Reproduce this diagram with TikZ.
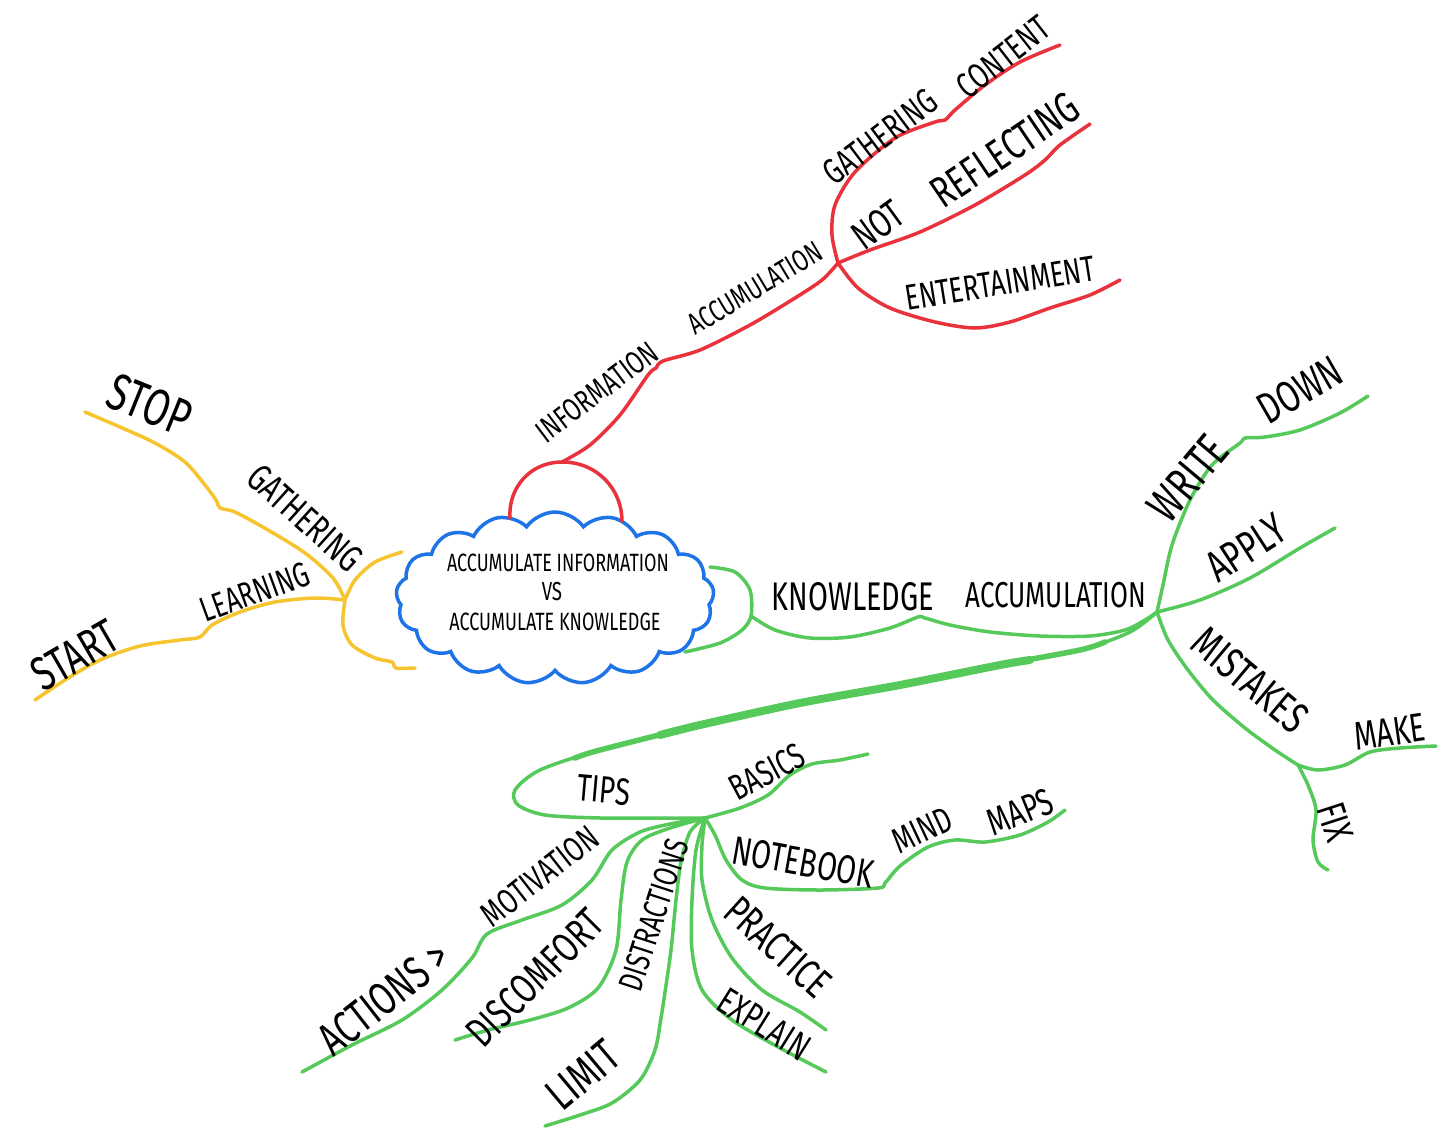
\documentclass[tikz,border=0pt]{standalone}
\usepackage{fontspec}
\newfontfamily\hand{Fira Sans}[FakeStretch=0.72]
\usetikzlibrary{shapes.symbols}
\definecolor{cred}{HTML}{E8323C}
\definecolor{cyel}{HTML}{F6C42E}
\definecolor{cblue}{HTML}{1E74E6}
\definecolor{cgreen}{HTML}{55C95A}
\tikzset{
  br/.style={line width=3.5pt, line cap=round, line join=round},
  lbl/.style={inner sep=0pt, anchor=center, text=black},
}
\newcommand{\fs}[1]{\hand\fontsize{#1}{#1}\selectfont}
\begin{document}
\begin{tikzpicture}[x=1pt,y=-1pt]
\useasboundingbox[fill=white] (0,0) rectangle (1456,1146);

% cloud
\node[cloud, draw=cblue, line width=3.5pt, cloud puffs=17, cloud puff arc=110, aspect=1.85,
      minimum width=318pt, minimum height=172pt, inner sep=0pt] (cloud) at (555,598) {};
\node[lbl, font=\fs{25}] (t1) at (558,563) {ACCUMULATE INFORMATION};
\node[lbl, font=\fs{26}] (t2) at (552,592) {VS};
\node[lbl, font=\fs{25}] (t3) at (555,622) {ACCUMULATE KNOWLEDGE};

% coordinates
\coordinate (ra) at (510,518);
\coordinate (rb) at (622,521);
\coordinate (hr) at (562,462);
\coordinate (jr) at (838,263);
\coordinate (cy1) at (402,552);
\coordinate (cy2) at (415,668);
\coordinate (jy) at (345,600);
\coordinate (cg1) at (710,567);
\coordinate (cg2) at (685,652);
\coordinate (jg0) at (751,616);
\coordinate (jg) at (1157,612);
\coordinate (jm) at (1298,765);
\coordinate (jt) at (705,818);

% red
\draw[br, cred] (ra) .. controls (508,488) and (530,462) .. (hr) .. controls (598,462) and (622,490) .. (rb);
\draw[br, cred] plot[smooth, tension=0.5] coordinates {(hr) (590,445) (620,415) (648,375) (656,368) (663,361) (700,350) (750,325) (795,298) (822,280) (jr)};
\draw[br, cred] plot[smooth, tension=0.5] coordinates {(jr) (832,235) (835,205) (855,172) (895,138) (935,122) (945,120) (955,110) (985,85) (1020,62) (1060,45)};
\draw[br, cred] plot[smooth, tension=0.5] coordinates {(jr) (870,250) (920,232) (975,205) (1025,175) (1045,160) (1060,145) (1090,124)};
\draw[br, cred] plot[smooth, tension=0.5] coordinates {(jr) (858,288) (890,308) (935,322) (975,328) (1010,322) (1050,308) (1090,295) (1120,280)};

% yellow
\draw[br, cyel] plot[smooth, tension=0.5] coordinates {(cy1) (375,562) (355,580) (jy)};
\draw[br, cyel] plot[smooth, tension=0.5] coordinates {(jy) (343,625) (352,645) (375,658) (392,662) (396,668) (cy2)};
\draw[br, cyel] plot[smooth, tension=0.5] coordinates {(jy) (333,578) (305,553) (268,530) (235,512) (220,508) (216,500) (205,485) (185,462) (155,443) (120,427) (85,412)};
\draw[br, cyel] plot[smooth, tension=0.5] coordinates {(jy) (315,598) (275,602) (240,612) (212,625) (200,637) (180,640) (140,646) (100,660) (65,680) (35,700)};

% green
\draw[br, cgreen] plot[smooth, tension=0.5] coordinates {(cg1) (735,572) (750,590) (jg0) (742,630) (720,643) (cg2)};
\draw[br, cgreen] plot[smooth, tension=0.5] coordinates {(jg0) (775,630) (810,638) (850,637) (890,628) (918,617) (925,618) (950,625) (990,632) (1040,636) (1090,636) (1125,630) (1145,620) (jg)};
\draw[br, cgreen] plot[smooth, tension=0.5] coordinates {(jg) (1163,585) (1172,545) (1190,500) (1212,465) (1240,443) (1245,438) (1265,437) (1300,430) (1340,413) (1368,396)};
\draw[br, cgreen] plot[smooth, tension=0.5] coordinates {(jg) (1200,600) (1250,578) (1300,548) (1335,528)};
\draw[br, cgreen] plot[smooth, tension=0.5] coordinates {(jg) (1168,640) (1188,670) (1213,700) (1245,728) (1275,750) (jm)};
\draw[br, cgreen] plot[smooth, tension=0.5] coordinates {(jm) (1318,770) (1345,765) (1370,752) (1400,748) (1436,746)};
\draw[br, cgreen] plot[smooth, tension=0.5] coordinates {(jm) (1308,785) (1316,810) (1313,840) (1318,862) (1328,870)};
\draw[br, cgreen] plot[smooth, tension=0.5] coordinates {(jg) (1130,632) (1080,650) (1000,665) (900,685) (800,703) (700,725) (600,750) (540,770) (515,790) (518,805) (545,815) (600,818) (660,818) (jt)};
\draw[cgreen, line width=5.5pt, line cap=round] plot[smooth, tension=0.5] coordinates {(1105,642) (1080,650) (1000,665) (900,685) (800,703) (700,725) (600,750) (575,758)};
\draw[cgreen, line width=8pt, line cap=round] plot[smooth, tension=0.5] coordinates {(1030,660) (1000,665) (900,685) (800,703) (700,725) (660,735)};
\draw[br, cgreen] plot[smooth, tension=0.5] coordinates {(jt) (740,808) (768,795) (790,775) (812,764) (840,760) (868,754)};
\draw[br, cgreen] plot[smooth, tension=0.5] coordinates {(jt) (715,835) (726,860) (742,880) (765,888) (820,890) (878,888) (885,883) (900,866) (928,847) (955,840) (985,842) (1020,835) (1048,822) (1065,810)};
\draw[br, cgreen] plot[smooth, tension=0.5] coordinates {(jt) (702,845) (702,880) (712,920) (732,958) (762,990) (800,1012) (826,1030)};
\draw[br, cgreen] plot[smooth, tension=0.5] coordinates {(jt) (696,850) (692,900) (692,950) (702,990) (732,1020) (780,1048) (826,1072)};
\draw[br, cgreen] plot[smooth, tension=0.5] coordinates {(jt) (690,832) (681,862) (676,900) (671,950) (665,992) (661,1018) (655,1050) (640,1080) (612,1103) (580,1115) (545,1126)};
\draw[br, cgreen] plot[smooth, tension=0.5] coordinates {(jt) (670,828) (642,840) (627,862) (621,900) (616,950) (598,988) (568,1008) (530,1020) (488,1030) (455,1040)};
\draw[br, cgreen] plot[smooth, tension=0.5] coordinates {(jt) (670,824) (640,832) (612,850) (592,880) (562,905) (522,920) (487,934) (472,958) (442,990) (402,1020) (352,1045) (302,1072)};

% labels red
\node[lbl, font=\fs{32}, rotate=37] (l1) at (597,392) {INFORMATION};
\node[lbl, font=\fs{30}, rotate=31] (l2) at (755,288) {ACCUMULATION};
\node[lbl, font=\fs{36}, rotate=37] (l3) at (880,137) {GATHERING};
\node[lbl, font=\fs{36}, rotate=38] (l4) at (1003,57) {CONTENT};
\node[lbl, font=\fs{40}, rotate=36] (l5) at (878,225) {NOT};
\node[lbl, font=\fs{44}, rotate=34] (l6) at (1005,150) {REFLECTING};
\node[lbl, font=\fs{36}, rotate=9] (l7) at (1000,283) {ENTERTAINMENT};
% labels yellow
\node[lbl, font=\fs{52}, rotate=-22] (l8) at (150,405) {STOP};
\node[lbl, font=\fs{38}, rotate=-42] (l9) at (305,518) {GATHERING};
\node[lbl, font=\fs{35}, rotate=20] (l10) at (255,592) {LEARNING};
\node[lbl, font=\fs{48}, rotate=30] (l11) at (75,655) {START};
% labels green
\node[lbl, font=\fs{40}] (l12) at (853,597) {KNOWLEDGE};
\node[lbl, font=\fs{36}] (l13) at (1056,595) {ACCUMULATION};
\node[lbl, font=\fs{48}, rotate=50] (l14) at (1188,478) {WRITE};
\node[lbl, font=\fs{44}, rotate=30] (l15) at (1300,390) {DOWN};
\node[lbl, font=\fs{44}, rotate=33] (l16) at (1246,548) {APPLY};
\node[lbl, font=\fs{44}, rotate=-40] (l17) at (1250,680) {MISTAKES};
\node[lbl, font=\fs{40}, rotate=8] (l18) at (1390,732) {MAKE};
\node[lbl, font=\fs{40}, rotate=-72] (l19) at (1335,822) {FIX};
\node[lbl, font=\fs{38}, rotate=-5] (l20) at (604,790) {TIPS};
\node[lbl, font=\fs{36}, rotate=28] (l21) at (767,772) {BASICS};
\node[lbl, font=\fs{40}, rotate=-10] (l22) at (803,862) {NOTEBOOK};
\node[lbl, font=\fs{36}, rotate=25] (l23) at (922,830) {MIND};
\node[lbl, font=\fs{38}, rotate=22] (l24) at (1020,812) {MAPS};
\node[lbl, font=\fs{46}, rotate=38] (l25) at (384,998) {ACTIONS >};
\node[lbl, font=\fs{35}, rotate=38] (l26) at (540,876) {MOTIVATION};
\node[lbl, font=\fs{42}, rotate=45] (l27) at (535,978) {DISCOMFORT};
\node[lbl, font=\fs{34}, rotate=72] (l28) at (654,915) {DISTRACTIONS};
\node[lbl, font=\fs{46}, rotate=40] (l29) at (583,1075) {LIMIT};
\node[lbl, font=\fs{42}, rotate=-42] (l30) at (778,947) {PRACTICE};
\node[lbl, font=\fs{38}, rotate=-32] (l31) at (764,1024) {EXPLAIN};
\end{tikzpicture}
\end{document}
